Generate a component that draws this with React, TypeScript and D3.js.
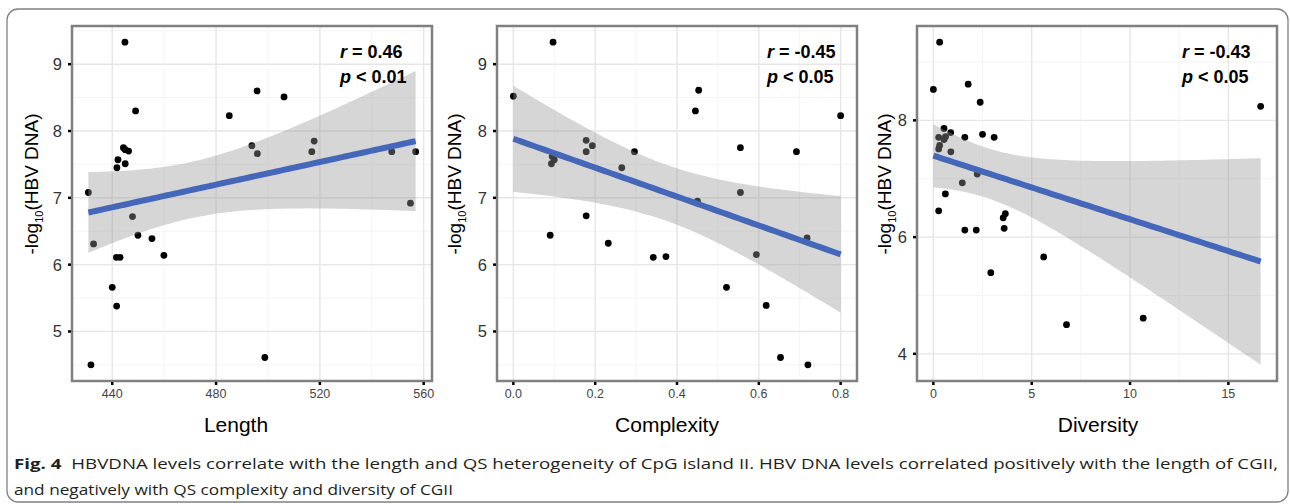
import React from 'react';
import * as d3 from 'd3';

// values, one array per panel axis
const lengthX = [430.8, 432.8, 444.9, 449, 444.3, 445, 446.3, 442.2, 441.8, 445, 447.8, 449.9, 455.3, 485.1, 495.8, 506.2, 493.8, 495.9, 517.8, 516.9, 547.7, 556.9, 554.9, 441.6, 443, 459.9, 440, 441.7, 431.8, 498.8];
const lengthY = [7.08, 6.31, 9.33, 8.3, 7.75, 7.72, 7.7, 7.57, 7.45, 7.51, 6.72, 6.44, 6.39, 8.23, 8.6, 8.51, 7.78, 7.66, 7.85, 7.69, 7.69, 7.69, 6.92, 6.11, 6.11, 6.14, 5.66, 5.38, 4.5, 4.61];

const complexityX = [0.0, 0.097, 0.453, 0.445, 0.8, 0.178, 0.193, 0.178, 0.296, 0.555, 0.692, 0.095, 0.1, 0.093, 0.265, 0.555, 0.178, 0.09, 0.232, 0.718, 0.45, 0.342, 0.373, 0.594, 0.521, 0.618, 0.653, 0.72];
const complexityY = [8.52, 9.33, 8.61, 8.3, 8.23, 7.86, 7.78, 7.69, 7.69, 7.75, 7.69, 7.62, 7.57, 7.51, 7.45, 7.08, 6.73, 6.44, 6.32, 6.4, 6.95, 6.11, 6.12, 6.15, 5.66, 5.39, 4.61, 4.5];

const diversityX = [0.32, 0, 1.77, 2.38, 16.64, 0.54, 0.88, 0.27, 0.62, 0.54, 1.6, 2.5, 3.09, 0.32, 0.27, 0.89, 2.23, 1.47, 0.61, 0.27, 3.66, 3.55, 3.6, 1.6, 2.18, 2.92, 5.61, 6.77, 10.67];
const diversityY = [9.34, 8.53, 8.62, 8.31, 8.24, 7.86, 7.79, 7.71, 7.72, 7.67, 7.71, 7.76, 7.71, 7.57, 7.51, 7.46, 7.08, 6.93, 6.74, 6.45, 6.4, 6.33, 6.15, 6.12, 6.12, 5.39, 5.66, 4.5, 4.61];

const lengthTicks = [440, 480, 520, 560];
const complexityTicks = [0, 0.2, 0.4, 0.6, 0.8];
const diversityTicks = [0, 5, 10, 15];
const yTicksWide = [5, 6, 7, 8, 9];
const yTicksNarrow = [4, 6, 8];

const rLabels = ['0.46', '-0.45', '-0.43'];
const pLabels = ['0.01', '0.05', '0.05'];
const xTitles = ['Length', 'Complexity', 'Diversity'];

const T975 = 2.05;
const SANS = 'Liberation Sans, Arial, Helvetica, sans-serif';

function fit(xs, ys) {
  const n = xs.length;
  const mx = d3.mean(xs);
  const my = d3.mean(ys);
  let sxx = 0, sxy = 0;
  xs.forEach((x, i) => { sxx += (x - mx) ** 2; sxy += (x - mx) * (ys[i] - my); });
  const b = sxy / sxx;
  const a = my - b * mx;
  let sse = 0;
  xs.forEach((x, i) => { sse += (ys[i] - a - b * x) ** 2; });
  const s = Math.sqrt(sse / (n - 2));
  const [x0, x1] = d3.extent(xs);
  const band = d3.range(0, 81).map((k) => {
    const x = x0 + ((x1 - x0) * k) / 80;
    const yh = a + b * x;
    const se = s * Math.sqrt(1 / n + (x - mx) ** 2 / sxx);
    return { x, yh, lo: yh - T975 * se, hi: yh + T975 * se };
  });
  return band;
}

function expand([a, b]) {
  const d = (b - a) * 0.05;
  return [a - d, b + d];
}

function Panel({ xs, ys, left, right, xTicks, yTicks, xFormat, rLab, pLab, xTitle, titleX, annX, yTitleX }) {
  const top = 26;
  const bottom = 381;
  const band = fit(xs, ys);
  const yAll = ys.concat(band.map((d) => d.lo), band.map((d) => d.hi));
  const x = d3.scaleLinear().domain(expand(d3.extent(xs))).range([left, right]);
  const y = d3.scaleLinear().domain(expand(d3.extent(yAll))).range([bottom, top]);

  const step = xTicks[1] - xTicks[0];
  const xMinor = d3.range(xTicks[0] - step / 2, x.domain()[1], step).filter((v) => v > x.domain()[0]);
  const yStep = yTicks[1] - yTicks[0];
  const yMinor = d3.range(yTicks[0] - yStep / 2, y.domain()[1], yStep).filter((v) => v > y.domain()[0]);

  const area = d3.area().x((d) => x(d.x)).y0((d) => y(d.lo)).y1((d) => y(d.hi));
  const line = d3.line().x((d) => x(d.x)).y((d) => y(d.yh));

  return (
    <g fontFamily={SANS}>
      <rect x={left} y={top} width={right - left} height={bottom - top} fill="#fff" />
      {xMinor.map((v) => (
        <line key={'xm' + v} x1={x(v)} x2={x(v)} y1={top} y2={bottom} stroke="#f4f4f4" strokeWidth={1} />
      ))}
      {yMinor.map((v) => (
        <line key={'ym' + v} x1={left} x2={right} y1={y(v)} y2={y(v)} stroke="#f4f4f4" strokeWidth={1} />
      ))}
      {xTicks.map((v) => (
        <line key={'xg' + v} x1={x(v)} x2={x(v)} y1={top} y2={bottom} stroke="#e6e6e6" strokeWidth={1.4} />
      ))}
      {yTicks.map((v) => (
        <line key={'yg' + v} x1={left} x2={right} y1={y(v)} y2={y(v)} stroke="#e6e6e6" strokeWidth={1.4} />
      ))}
      {xs.map((v, i) => (
        <circle key={'p' + i} cx={x(v)} cy={y(ys[i])} r={3.4} fill="#000" />
      ))}
      <path d={area(band)} fill="#999" fillOpacity={0.4} />
      <path d={line(band)} fill="none" stroke="#4467b9" strokeWidth={6} />
      <rect x={left} y={top} width={right - left} height={bottom - top} fill="none" stroke="#808080" strokeWidth={2.5} />
      {yTicks.map((v) => (
        <g key={'yt' + v}>
          <line x1={left - 4} x2={left - 1} y1={y(v)} y2={y(v)} stroke="#000" strokeWidth={2.5} />
          <text x={left - 10} y={y(v)} dy="0.36em" textAnchor="end" fontSize={16.5} fill="#333">{v}</text>
        </g>
      ))}
      {xTicks.map((v) => (
        <g key={'xt' + v}>
          <line x1={x(v)} x2={x(v)} y1={bottom + 1} y2={bottom + 4} stroke="#000" strokeWidth={2.5} />
          <text x={x(v)} y={bottom + 17} textAnchor="middle" fontSize={12.5} fill="#444">{xFormat(v)}</text>
        </g>
      ))}
      <text x={titleX} y={432} textAnchor="middle" fontSize={21} fill="#000">{xTitle}</text>
      <text transform={`translate(${yTitleX},184) rotate(-90)`} textAnchor="middle" fontSize={19} fill="#000">
        -log<tspan fontSize={11} dy={5}>10</tspan><tspan dy={-5}>(HBV DNA)</tspan>
      </text>
      <text x={annX} y={57.5} fontSize={18} fontWeight="bold" fill="#000">
        <tspan fontStyle="italic">r</tspan> = {rLab}
      </text>
      <text x={annX} y={82.5} fontSize={18} fontWeight="bold" fill="#000">
        <tspan fontStyle="italic">p</tspan> {'<'} {pLab}
      </text>
    </g>
  );
}

export default function App() {
  const fmtInt = (v) => String(v);
  const fmtDec = d3.format('.1f');
  return (
    <svg width={1290} height={504} style={{ position: 'absolute', left: 0, top: 0 }}>
      <rect x={0} y={0} width={1290} height={504} fill="#fff" />
      <rect x={7} y={9} width={1281} height={493} rx={11} fill="none" stroke="#808080" strokeWidth={1.3} />
      <Panel xs={lengthX} ys={lengthY} left={72} right={432} xTicks={lengthTicks} yTicks={yTicksWide} xFormat={fmtInt}
        rLab={rLabels[0]} pLab={pLabels[0]} xTitle={xTitles[0]} titleX={236} annX={340} yTitleX={38} />
      <Panel xs={complexityX} ys={complexityY} left={497} right={857} xTicks={complexityTicks} yTicks={yTicksWide} xFormat={fmtDec}
        rLab={rLabels[1]} pLab={pLabels[1]} xTitle={xTitles[1]} titleX={667} annX={767} yTitleX={461} />
      <Panel xs={diversityX} ys={diversityY} left={917} right={1277} xTicks={diversityTicks} yTicks={yTicksNarrow} xFormat={fmtInt}
        rLab={rLabels[2]} pLab={pLabels[2]} xTitle={xTitles[2]} titleX={1098} annX={1182} yTitleX={891} />
      <g fontFamily="Open Sans, Noto Sans, sans-serif" fontSize={15} fill="#231f20">
        <text x={14} y={469} textLength={1264} lengthAdjust="spacingAndGlyphs">
          <tspan fontWeight="bold">Fig. 4</tspan>
          <tspan dx={8}>HBVDNA levels correlate with the length and QS heterogeneity of CpG island II. HBV DNA levels correlated positively with the length of CGII,</tspan>
        </text>
        <text x={14} y={495} textLength={439} lengthAdjust="spacingAndGlyphs">
          and negatively with QS complexity and diversity of CGII
        </text>
      </g>
    </svg>
  );
}
